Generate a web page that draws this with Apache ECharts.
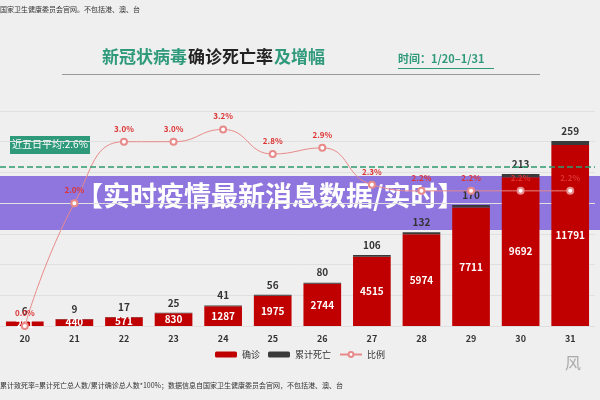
<!DOCTYPE html>
<head>
    <meta charset="utf-8">
    <script src="https://cdn.jsdelivr.net/npm/echarts@6/dist/echarts.min.js"></script>
</head>
<body style="margin:0;background:#efefef">
<div id="main" style="width:600px;height:400px"></div>
<script type="text/javascript">
var days = ['20','21','22','23','24','25','26','27','28','29','30','31'];
var confirmed = [291,440,571,830,1287,1975,2744,4515,5974,7711,9692,11791];
var deaths = [6,9,17,25,41,56,80,106,132,170,213,259];
var rates = [0.0,2.0,3.0,3.0,3.2,2.8,2.9,2.3,2.2,2.2,2.2,2.2];
var avgRate = 2.6;

var font = '"Noto Sans CJK SC", sans-serif';
var myChart = echarts.init(document.getElementById('main'));
var option = {
    backgroundColor: '#efefef',
    textStyle: {fontFamily: font},
    grid: {left: 0, right: 5, top: 111, bottom: 74},
    legend: {
        bottom: 36, left: 'center', itemWidth: 22, itemHeight: 6,
        textStyle: {fontSize: 9, color: '#333'},
        data: ['确诊', '累计死亡', '比例']
    },
    xAxis: {
        type: 'category', data: days,
        axisLine: {show: false}, axisTick: {show: false},
        axisLabel: {fontSize: 9, color: '#333', fontWeight: 'bold'}
    },
    yAxis: [
        {type: 'value', min: 0, max: 14000, interval: 2000, axisLabel: {show: false},
         splitLine: {lineStyle: {color: '#e0e0e0'}}},
        {type: 'value', min: 0, max: 3.5, show: false, splitLine: {show: false}}
    ],
    series: [
        {name: '确诊', type: 'bar', stack: 'a', data: confirmed, barWidth: '76%',
         itemStyle: {color: '#c00000'},
         label: {show: true, position: 'inside', color: '#fff', fontSize: 10, fontWeight: 'bold'}},
        {name: '累计死亡', type: 'bar', stack: 'a', data: deaths, itemStyle: {color: '#3a3a3a'},
         label: {show: true, position: 'top', color: '#333', fontSize: 10, fontWeight: 'bold'}},
        {name: '比例', type: 'line', yAxisIndex: 1, data: rates, smooth: true,
         symbol: 'emptyCircle', symbolSize: 6,
         lineStyle: {color: '#e88a8a', width: 1}, itemStyle: {color: '#e88a8a'},
         label: {show: true, position: 'top', color: '#d33', fontSize: 8, fontWeight: 'bold',
                 formatter: function (p) { return p.value.toFixed(1) + '%'; }},
         markLine: {symbol: 'none', silent: true, label: {show: false},
                    lineStyle: {color: '#2e9a6e', type: 'dashed', width: 1.5},
                    data: [{yAxis: avgRate}]}}
    ],
    graphic: [
        {type: 'text', left: 0, top: 6, style: {text: '国家卫生健康委员会官网。不包括港、澳、台', fontSize: 7, fill: '#333', fontFamily: font}},
        {type: 'text', left: 102, top: 48, style: {text: '新冠状病毒', fontSize: 17, fontWeight: 'bold', fill: '#2e9a7a', fontFamily: font}},
        {type: 'text', left: 188, top: 48, style: {text: '确诊死亡率', fontSize: 17, fontWeight: 'bold', fill: '#222', fontFamily: font}},
        {type: 'text', left: 274, top: 48, style: {text: '及增幅', fontSize: 17, fontWeight: 'bold', fill: '#2e9a7a', fontFamily: font}},
        {type: 'text', left: 398, top: 53, style: {text: '时间：1/20–1/31', fontSize: 11, fontWeight: 'bold', fill: '#2e9a7a', fontFamily: font}},
        {type: 'rect', shape: {x: 398, y: 68, width: 96, height: 1}, style: {fill: '#2e9a7a'}},
        {type: 'rect', shape: {x: 62, y: 74, width: 478, height: 1}, style: {fill: '#999'}},
        {type: 'rect', shape: {x: 10, y: 136, width: 80, height: 18}, style: {fill: '#2e9a7a'}},
        {type: 'text', left: 12, top: 139, style: {text: '近五日平均:2.6%', fontSize: 10, fill: '#fff', fontFamily: font}},
        {type: 'rect', shape: {x: 0, y: 176, width: 600, height: 54}, style: {fill: 'rgba(130,100,220,0.88)'}},
        {type: 'text', left: 76, top: 182, style: {text: '【实时疫情最新消息数据/实时】', fontSize: 27, fontWeight: 'bold', fill: '#fff', fontFamily: font}},
        {type: 'text', left: 0, top: 382, style: {text: '累计致死率=累计死亡总人数/累计确诊总人数*100%；数据信息自国家卫生健康委员会官网，不包括港、澳、台', fontSize: 7, fill: '#333', fontFamily: font}},
        {type: 'text', left: 565, top: 355, style: {text: '风', fontSize: 16, fill: '#aaa', fontFamily: font}}
    ]
};
myChart.setOption(option);
</script>
</body>
